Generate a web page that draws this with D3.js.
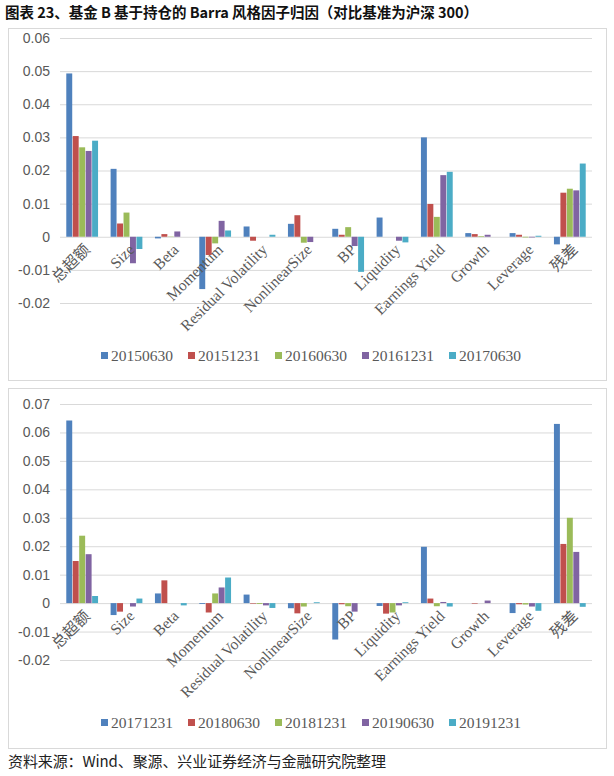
<!DOCTYPE html>
<html>
<head>
  <meta charset="utf-8">
  <style>
    html, body {
      margin: 0;
      padding: 0;
      background: #fff;
      width: 614px;
      height: 776px;
      overflow: hidden;
    }
    svg { display: block; }
    .grid line { stroke: #d9d9d9; stroke-width: 1px; }
    .grid .domain { display: none; }
    .ytick text { fill: #595959; font-family: "Liberation Sans", sans-serif; font-size: 14px; }
    .cat text { fill: #595959; font-family: "Liberation Serif", "Noto Sans CJK SC", serif; font-size: 15.5px; }
    .legend text { fill: #595959; font-family: "Liberation Serif", serif; font-size: 15.5px; }
  </style>
</head>
<body>
  <svg width="614" height="776"></svg>

  <script src="https://d3js.org/d3.v7.min.js"></script>
  <script>
    const categories = ["总超额", "Size", "Beta", "Momentum", "Residual Volatility", "NonlinearSize",
                        "BP", "Liquidity", "Earnings Yield", "Growth", "Leverage", "残差"];

    // top panel
    const topDates = ["20150630", "20151231", "20160630", "20161231", "20170630"];
    const top20150630 = [0.0493, 0.0205, -0.0005, -0.0158, 0.0031, 0.0039, 0.0024, 0.0058, 0.0300, 0.0011, 0.0011, -0.0023];
    const top20151231 = [0.0304, 0.0040, 0.0008, -0.0055, -0.0012, 0.0065, 0.0006, 0.0000, 0.0099, 0.0008, 0.0006, 0.0133];
    const top20160630 = [0.0270, 0.0073, 0.0001, -0.0020, 0.0000, -0.0018, 0.0029, 0.0000, 0.0060, 0.0002, -0.0002, 0.0145];
    const top20161231 = [0.0259, -0.0080, 0.0016, 0.0048, 0.0000, -0.0016, -0.0028, -0.0012, 0.0186, 0.0006, -0.0002, 0.0140];
    const top20170630 = [0.0290, -0.0037, 0.0000, 0.0019, 0.0006, 0.0000, -0.0106, -0.0017, 0.0196, 0.0000, 0.0003, 0.0221];
    const topTicks = [-0.02, -0.01, 0, 0.01, 0.02, 0.03, 0.04, 0.05, 0.06];

    // bottom panel
    const bottomDates = ["20171231", "20180630", "20181231", "20190630", "20191231"];
    const bot20171231 = [0.0642, -0.0042, 0.0034, -0.0003, 0.0030, -0.0018, -0.0128, -0.0010, 0.0198, 0.0000, -0.0035, 0.0630];
    const bot20180630 = [0.0148, -0.0030, 0.0080, -0.0033, -0.0002, -0.0036, -0.0004, -0.0037, 0.0016, -0.0002, -0.0004, 0.0208];
    const bot20181231 = [0.0237, 0.0000, 0.0000, 0.0034, -0.0003, -0.0012, -0.0011, -0.0033, -0.0011, 0.0000, -0.0005, 0.0300];
    const bot20190630 = [0.0172, -0.0012, 0.0000, 0.0055, -0.0008, 0.0000, -0.0030, -0.0008, 0.0004, 0.0009, -0.0012, 0.0180];
    const bot20191231 = [0.0025, 0.0016, -0.0008, 0.0090, -0.0017, 0.0003, 0.0000, 0.0003, -0.0012, 0.0000, -0.0027, -0.0013];
    const bottomTicks = [-0.02, -0.01, 0, 0.01, 0.02, 0.03, 0.04, 0.05, 0.06, 0.07];

    const colors = ["#4f81bd", "#c0504d", "#9bbb59", "#8064a2", "#4bacc6"];

    const svg = d3.select("svg");

    // title
    svg.append("text")
      .attr("x", 5).attr("y", 18)
      .attr("font-family", "Noto Sans CJK SC, sans-serif")
      .attr("font-weight", "bold")
      .attr("font-size", 14.5)
      .attr("fill", "#111")
      .attr("textLength", 473)
      .text("图表 23、基金 B 基于持仓的 Barra 风格因子归因（对比基准为沪深 300）");

    // footer
    svg.append("text")
      .attr("x", 8).attr("y", 767)
      .attr("font-family", "Noto Sans CJK SC, sans-serif")
      .attr("font-size", 15)
      .attr("fill", "#222")
      .attr("textLength", 378)
      .text("资料来源：Wind、聚源、兴业证券经济与金融研究院整理");

    function fmt(d) {
      return d === 0 ? "0" : d.toFixed(2);
    }

    function drawPanel(opt) {
      const g = svg.append("g");

      g.append("rect")
        .attr("x", opt.box[0] + 0.5).attr("y", opt.box[1] + 0.5)
        .attr("width", opt.box[2]).attr("height", opt.box[3])
        .attr("fill", "#fff")
        .attr("stroke", "#d9d9d9");

      const y = d3.scaleLinear().domain(opt.domain).range(opt.yRange);
      const x0 = d3.scaleBand().domain(categories).range([60, 592])
        .paddingInner(0.26).paddingOuter(0.13);
      const x1 = d3.scaleBand().domain(d3.range(opt.series.length))
        .range([0, x0.bandwidth()]).padding(0.08);

      // gridlines + y labels
      const yAxis = g.append("g")
        .attr("class", "grid ytick")
        .attr("transform", "translate(60,0)")
        .call(d3.axisLeft(y).tickValues(opt.ticks).tickSize(-532).tickPadding(10).tickFormat(fmt));
      yAxis.selectAll(".tick line").attr("stroke", "#d9d9d9");

      // bars
      opt.series.forEach((vals, si) => {
        g.append("g")
          .selectAll("rect")
          .data(vals)
          .join("rect")
          .attr("x", (d, i) => x0(categories[i]) + x1(si))
          .attr("width", x1.bandwidth())
          .attr("y", d => y(Math.max(0, d)))
          .attr("height", d => Math.abs(y(d) - y(0)))
          .attr("fill", colors[si]);
      });

      // category labels at the zero line
      const zero = y(0);
      g.append("g")
        .attr("class", "cat")
        .selectAll("text")
        .data(categories)
        .join("text")
        .attr("transform", d => `translate(${x0(d) + x0.bandwidth() / 2 + 5},${zero + 10}) rotate(-45)`)
        .attr("text-anchor", "end")
        .attr("dy", "0.35em")
        .text(d => d);

      // legend
      const leg = g.append("g").attr("class", "legend");
      opt.dates.forEach((d, i) => {
        const lx = 101 + i * 87;
        leg.append("rect")
          .attr("x", lx).attr("y", opt.legendY - 4)
          .attr("width", 7).attr("height", 7)
          .attr("fill", colors[i]);
        leg.append("text")
          .attr("x", lx + 10).attr("y", opt.legendY)
          .attr("dy", "0.35em")
          .text(d);
      });
    }

    drawPanel({
      box: [8, 28, 598, 352],
      domain: [-0.02, 0.06],
      yRange: [303, 38],
      ticks: topTicks,
      series: [top20150630, top20151231, top20160630, top20161231, top20170630],
      dates: topDates,
      legendY: 356
    });

    drawPanel({
      box: [8, 388, 598, 360],
      domain: [-0.02, 0.07],
      yRange: [660, 404],
      ticks: bottomTicks,
      series: [bot20171231, bot20180630, bot20181231, bot20190630, bot20191231],
      dates: bottomDates,
      legendY: 723
    });
  </script>
</body>
</html>
